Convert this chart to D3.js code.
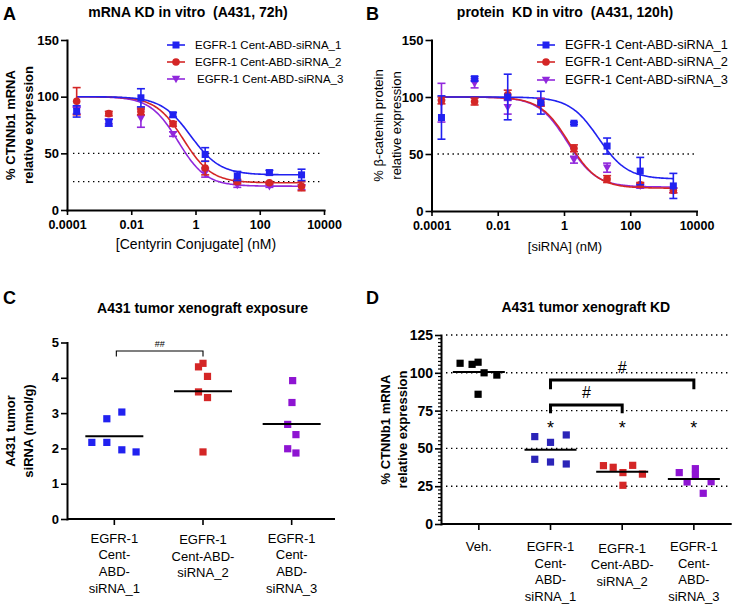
<!DOCTYPE html>
<html><head><meta charset="utf-8">
<script src="https://cdn.jsdelivr.net/npm/d3@7"></script>
<style>
body{margin:0;background:#fff;}
svg{font-family:"Liberation Sans", Arial, Helvetica, sans-serif;}
text{white-space:pre;}
</style></head><body>
<svg id="chart" width="736" height="609"></svg>
<script>
// ---------------- DATA ----------------
const seriesNames = ["EGFR-1 Cent-ABD-siRNA_1","EGFR-1 Cent-ABD-siRNA_2","EGFR-1 Cent-ABD-siRNA_3"];
const conc = [0.0002,0.002,0.02,0.2,2,20,200,2000];
const doseTicks = [0.0001,0.01,1,100,10000];
const doseTickLabels = ["0.0001","0.01","1","100","10000"];

// Panel A: mRNA KD in vitro (mean, error)
const mrna_1 = [87,77,99,84,49,30,33,31];
const mrna_1_err = [5,3,8,2,6,4,2,5];
const mrna_2 = [96,85,87,76,37,25,24,21];
const mrna_2_err = [12,2,3,2,6,2,1,4];
const mrna_3 = [88,78,81,67,33,22,21,20];
const mrna_3_err = [3,2,8,2,4,2,1,2];
// fit parameters: top, bottom, logIC50, Hill slope
const mrnaFit_1 = [100,31,-0.15,0.95];
const mrnaFit_2 = [100,24,-0.37,1.0];
const mrnaFit_3 = [100,21,-0.54,1.0];

// Panel B: protein KD in vitro
const prot_1 = [82,116,100,95,77,57,35,22];
const prot_1_err = [19,2,20,10,1,7,12,11];
const prot_2 = [97,96,102,95,55,28,23,18];
const prot_2_err = [3,3,4,3,3,3,2,2];
const prot_3 = [95,112,91,96,45,38,22,18];
const prot_3_err = [17,4,6,3,3,4,2,2];
const protFit_1 = [100,28,1.04,1.0];
const protFit_2 = [100,20,0.15,1.0];
const protFit_3 = [100,21,0.10,1.0];

// Panel C: tumor exposure (nmol/g)
const expoCats = ["EGFR-1 Cent-ABD-siRNA_1","EGFR-1 Cent-ABD-siRNA_2","EGFR-1 Cent-ABD-siRNA_3"];
const expoCatLines = [["EGFR-1","Cent-","ABD-","siRNA_1"],["EGFR-1","Cent-ABD-","siRNA_2"],["EGFR-1","Cent-","ABD-","siRNA_3"]];
const expoTicks = [0,1,2,3,4,5];
const expo_1 = [2.17,2.84,3.03,2.17,1.96,1.90];
const expo_2 = [4.31,4.41,4.04,3.60,3.44,1.90];
const expo_3 = [3.92,3.30,2.68,2.39,1.99,1.87];
const expoDodge_1 = [-3,-1,1,-1,1,2.9];
const expoDodge_2 = [-0.6,0,0.6,-0.6,0.6,0];
const expoDodge_3 = [0.13,0.04,-0.53,0.57,-0.53,0.57];

// Panel D: tumor KD (% CTNNb1 mRNA)
const kdCats = ["Veh.","EGFR-1 Cent-ABD-siRNA_1","EGFR-1 Cent-ABD-siRNA_2","EGFR-1 Cent-ABD-siRNA_3"];
const kdCatLines = [["Veh."],["EGFR-1","Cent-","ABD-","siRNA_1"],["EGFR-1","Cent-ABD-","siRNA_2"],["EGFR-1","Cent-","ABD-","siRNA_3"]];
const kdTicks = [0,25,50,75,100,125];
const kd_veh = [106.3,105.6,107,100,98.5,85.8];
const kd_1 = [57.8,54,58.9,42.8,41,39.7];
const kd_2 = [38.6,37.5,34,38.8,33,25.6];
const kd_3 = [34,27.8,36.6,32.2,28,20.3];
const kdDodge_veh = [-2.5,-0.9,-0.1,0.7,2.4,-0.1];
const kdDodge_1 = [-2.1,0,2.1,-2.1,0,2.1];
const kdDodge_2 = [-2.5,-1.2,0.1,1.4,2.7,0.1];
const kdDodge_3 = [-1.95,-0.9,0.2,0.2,2.3,1.25];
const kdStarCats = [1,2,3];
// brackets: [from cat, to cat, top value, leg value, label]
const kdBrackets = [[1,2,78.7,73.2,"#"],[1,3,95.2,89.1,"#"]];
const expoBrackets = [[0,1,4.76,4.6,"##"]];

// ---------------- STYLE ----------------
const FONT = '"Liberation Sans", Arial, sans-serif';
const BLUE = "#2121f0", RED = "#d42626", PURPLE = "#9128dc";
const DBLUE = "#2b24b8", DPURPLE = "#8e14d2";
const svg = d3.select("#chart");

function styleAxis(g, fs) {
  g.attr("font-family", FONT);
  g.select(".domain").attr("stroke", "#000").attr("stroke-width", 2).attr("stroke-linecap","square");
  g.selectAll(".tick line").attr("stroke", "#000").attr("stroke-width", 1.6);
  g.selectAll(".tick text").attr("fill", "#000").style("font-size", fs + "px").style("font-weight", "bold");
}
function marker(g, shape, x, y, color, s) {
  s = s || 7;
  if (shape === "square") {
    g.append("rect").attr("x", x - s/2).attr("y", y - s/2).attr("width", s).attr("height", s).attr("fill", color);
  } else if (shape === "circle") {
    g.append("circle").attr("cx", x).attr("cy", y).attr("r", s/2 + 0.3).attr("fill", color);
  } else {
    const h = s * 0.6;
    g.append("path").attr("d", `M${x - h},${y - h*0.75}L${x + h},${y - h*0.75}L${x},${y + h}Z`).attr("fill", color);
  }
}
function text(x, y, str, opts) {
  opts = opts || {};
  const t = svg.append("text").attr("x", x).attr("y", y).text(str)
    .attr("font-family", FONT).attr("font-size", opts.size || 12)
    .attr("font-weight", opts.bold ? "bold" : "normal")
    .attr("text-anchor", opts.anchor || "middle").attr("fill", "#000");
  if (opts.rotate) t.attr("transform", `rotate(-90,${x},${y})`);
  return t;
}

// ---------------- DOSE-RESPONSE PANELS ----------------
function dosePanel(cfg) {
  const x = d3.scaleLog().domain([1e-4, 1e4]).range(cfg.xr);
  const y = d3.scaleLinear().domain([0, 150]).range(cfg.yr);
  const g = svg.append("g");
  cfg.refs.forEach(v => {
    g.append("line").attr("x1", cfg.xr[0] + 6).attr("x2", cfg.xr[1] - 2)
      .attr("y1", y(v)).attr("y2", y(v)).attr("stroke", "#000").attr("stroke-width", 1.4)
      .attr("stroke-dasharray", "1.4,3.6");
  });
  const shapes = ["square", "circle", "tri"];
  const colors = [BLUE, RED, PURPLE];
  const lx0 = Math.log10(conc[0]), lx1 = Math.log10(conc[conc.length - 1]);
  const samples = d3.range(0, 201).map(i => lx0 + (lx1 - lx0) * i / 200);
  [2, 1, 0].forEach(k => {
    const [top, bot, lc, h] = cfg.fits[k];
    const pts = samples.map(lx => [x(Math.pow(10, lx)), y(bot + (top - bot) / (1 + Math.pow(10, (lx - lc) * h)))]);
    g.append("path").attr("d", d3.line()(pts)).attr("fill", "none").attr("stroke", colors[k]).attr("stroke-width", 1.6);
  });
  [2, 1, 0].forEach(k => {
    cfg.data[k].forEach((v, i) => {
      const cx = x(conc[i]), e = cfg.errs[k][i];
      g.append("line").attr("x1", cx).attr("x2", cx).attr("y1", y(v - e)).attr("y2", y(v + e)).attr("stroke", colors[k]).attr("stroke-width", 1.6);
      [v - e, v + e].forEach(w => g.append("line").attr("x1", cx - 4).attr("x2", cx + 4).attr("y1", y(w)).attr("y2", y(w)).attr("stroke", colors[k]).attr("stroke-width", 1.6));
      marker(g, shapes[k], cx, y(v), colors[k], 7);
    });
  });
  const ay = g.append("g").attr("transform", `translate(${cfg.xr[0]},0)`)
    .call(d3.axisLeft(y).tickValues([0, 50, 100, 150]).tickSize(6).tickSizeOuter(0).tickPadding(2));
  styleAxis(ay, 13);
  const ax = g.append("g").attr("transform", `translate(0,${cfg.yr[0]})`)
    .call(d3.axisBottom(x).tickValues(doseTicks).tickFormat((d, i) => doseTickLabels[i]).tickSize(5).tickSizeOuter(0).tickPadding(5));
  styleAxis(ax, 12.5);
  cfg.legendRows.forEach((ly, k) => {
    g.append("line").attr("x1", cfg.legendX).attr("x2", cfg.legendX + 18).attr("y1", ly).attr("y2", ly).attr("stroke", colors[k]).attr("stroke-width", 1.6);
    marker(g, shapes[k], cfg.legendX + 9, ly, colors[k], 7);
    text(cfg.legendX + 28 + (k === 2 ? cfg.legendShift : 0), ly + 4.3, seriesNames[k], {size: cfg.legendFs, anchor: "start"});
  });
}

dosePanel({
  xr: [67, 324], yr: [210, 40], refs: [50, 25],
  data: [mrna_1, mrna_2, mrna_3], errs: [mrna_1_err, mrna_2_err, mrna_3_err],
  fits: [mrnaFit_1, mrnaFit_2, mrnaFit_3],
  legendX: 167, legendRows: [45, 62, 79], legendFs: 11.5, legendShift: 2
});
dosePanel({
  xr: [431.5, 696.5], yr: [211, 40], refs: [50],
  data: [prot_1, prot_2, prot_3], errs: [prot_1_err, prot_2_err, prot_3_err],
  fits: [protFit_1, protFit_2, protFit_3],
  legendX: 537, legendRows: [45, 62, 80], legendFs: 12.8, legendShift: 0
});

text(3, 20, "A", {size: 18, bold: true, anchor: "start"});
text(366, 20, "B", {size: 18, bold: true, anchor: "start"});
text(188, 17, "mRNA KD in vitro  (A431, 72h)", {size: 14, bold: true});
text(565, 17, "protein  KD in vitro  (A431, 120h)", {size: 14, bold: true});
text(15, 125, "% CTNNb1 mRNA", {size: 13, bold: true, rotate: true});
text(32.5, 125, "relative expression", {size: 13, bold: true, rotate: true});
text(383, 125.5, "% β-catenin protein", {size: 13, bold: false, rotate: true});
text(400.5, 125.5, "relative expression", {size: 13, bold: false, rotate: true});
text(196, 249, "[Centyrin Conjugate] (nM)", {size: 14});
text(565, 251, "[siRNA] (nM)", {size: 13});

// ---------------- PANEL C ----------------
(function () {
  const x = d3.scalePoint().domain(expoCats).range([70, 336]).padding(0.5);
  const y = d3.scaleLinear().domain([0, 5]).range([519, 342.5]);
  const g = svg.append("g");
  const sets = [expo_1, expo_2, expo_3], dodges = [expoDodge_1, expoDodge_2, expoDodge_3];
  const colors = [BLUE, RED, DPURPLE];
  sets.forEach((vals, k) => {
    const cx = x(expoCats[k]);
    vals.forEach((v, i) => marker(g, "square", cx + dodges[k][i] * 7.5, y(v), colors[k], 7.2));
    const m = d3.mean(vals);
    g.append("line").attr("x1", cx - 29).attr("x2", cx + 29).attr("y1", y(m)).attr("y2", y(m)).attr("stroke", "#000").attr("stroke-width", 2);
  });
  expoBrackets.forEach(([a, b, top, leg, lab]) => {
    const x1 = x(expoCats[a]) + 2, x2 = x(expoCats[b]);
    g.append("path").attr("d", `M${x1},${y(leg)}V${y(top)}H${x2}V${y(leg)}`).attr("fill", "none").attr("stroke", "#000").attr("stroke-width", 1.1);
    text((x1 + x2) / 2, y(top) - 3.5, lab, {size: 9});
  });
  const ay = g.append("g").attr("transform", "translate(67,0)")
    .call(d3.axisLeft(y).tickValues(expoTicks).tickFormat(d3.format("d")).tickSize(6).tickSizeOuter(0).tickPadding(2));
  styleAxis(ay, 13);
  g.append("line").attr("x1", 67).attr("x2", 335).attr("y1", 519).attr("y2", 519).attr("stroke", "#000").attr("stroke-width", 2);
  expoCats.forEach((c, k) => {
    g.append("line").attr("x1", x(c)).attr("x2", x(c)).attr("y1", 519).attr("y2", 525).attr("stroke", "#000").attr("stroke-width", 1.6);
    expoCatLines[k].forEach((ln, j) => text(x(c), 542.5 + (expoCatLines[k].length === 3 ? 1.5 : 0) + j * 16.7, ln, {size: 13}));
  });
})();
text(3, 304, "C", {size: 18, bold: true, anchor: "start"});
text(202.5, 313, "A431 tumor xenograft exposure", {size: 14, bold: true});
text(15, 431, "A431 tumor", {size: 13, bold: true, rotate: true});
text(32.5, 431, "siRNA (nmol/g)", {size: 13, bold: true, rotate: true});

// ---------------- PANEL D ----------------
(function () {
  const x = d3.scalePoint().domain(kdCats).range([441, 731.7]).padding(0.528);
  const y = d3.scaleLinear().domain([0, 125]).range([524, 335]);
  const g = svg.append("g");
  kdTicks.filter(v => v > 0).forEach(v => {
    g.append("line").attr("x1", 446).attr("x2", 731).attr("y1", y(v)).attr("y2", y(v))
      .attr("stroke", "#000").attr("stroke-width", 1.4).attr("stroke-dasharray", "1.4,3.6");
  });
  const sets = [kd_veh, kd_1, kd_2, kd_3], dodges = [kdDodge_veh, kdDodge_1, kdDodge_2, kdDodge_3];
  const colors = ["#000", DBLUE, RED, DPURPLE];
  sets.forEach((vals, k) => {
    const cx = x(kdCats[k]);
    vals.forEach((v, i) => marker(g, "square", cx + dodges[k][i] * 7.5, y(v), colors[k], 7.2));
    const m = d3.mean(vals);
    g.append("line").attr("x1", cx - 26).attr("x2", cx + 26).attr("y1", y(m)).attr("y2", y(m)).attr("stroke", "#000").attr("stroke-width", 2);
  });
  kdStarCats.forEach(k => text(x(kdCats[k]), 433.5, "*", {size: 18}));
  kdBrackets.forEach(([a, b, top, leg, lab]) => {
    const x1 = x(kdCats[a]), x2 = x(kdCats[b]);
    g.append("path").attr("d", `M${x1},${y(leg)}V${y(top)}H${x2}V${y(leg)}`).attr("fill", "none").attr("stroke", "#000").attr("stroke-width", 3);
    text((x1 + x2) / 2, y(top) - 7.5, lab, {size: 16});
  });
  const ay = g.append("g").attr("transform", "translate(441,0)")
    .call(d3.axisLeft(y).tickValues(kdTicks).tickFormat(d3.format("d")).tickSize(6).tickSizeOuter(0).tickPadding(2));
  styleAxis(ay, 14);
  const minor = d3.range(0, 125.1, 2.5).filter(v => v % 25 !== 0);
  minor.forEach(v => g.append("line").attr("x1", 438).attr("x2", 441).attr("y1", y(v)).attr("y2", y(v)).attr("stroke", "#000").attr("stroke-width", 1.2));
  g.append("line").attr("x1", 441).attr("x2", 731.7).attr("y1", 524).attr("y2", 524).attr("stroke", "#000").attr("stroke-width", 2);
  kdCats.forEach((c, k) => {
    g.append("line").attr("x1", x(c)).attr("x2", x(c)).attr("y1", 524).attr("y2", 530).attr("stroke", "#000").attr("stroke-width", 1.6);
    kdCatLines[k].forEach((ln, j) => text(x(c), 551 + (kdCatLines[k].length === 3 ? 1.5 : 0) + j * 16.7, ln, {size: 13}));
  });
})();
text(366, 304, "D", {size: 18, bold: true, anchor: "start"});
text(585.8, 312, "A431 tumor xenograft KD", {size: 14, bold: true});
text(390, 429.5, "% CTNNb1 mRNA", {size: 13, bold: true, rotate: true});
text(407, 429.5, "relative expression", {size: 13, bold: true, rotate: true});
</script>
</body></html>
